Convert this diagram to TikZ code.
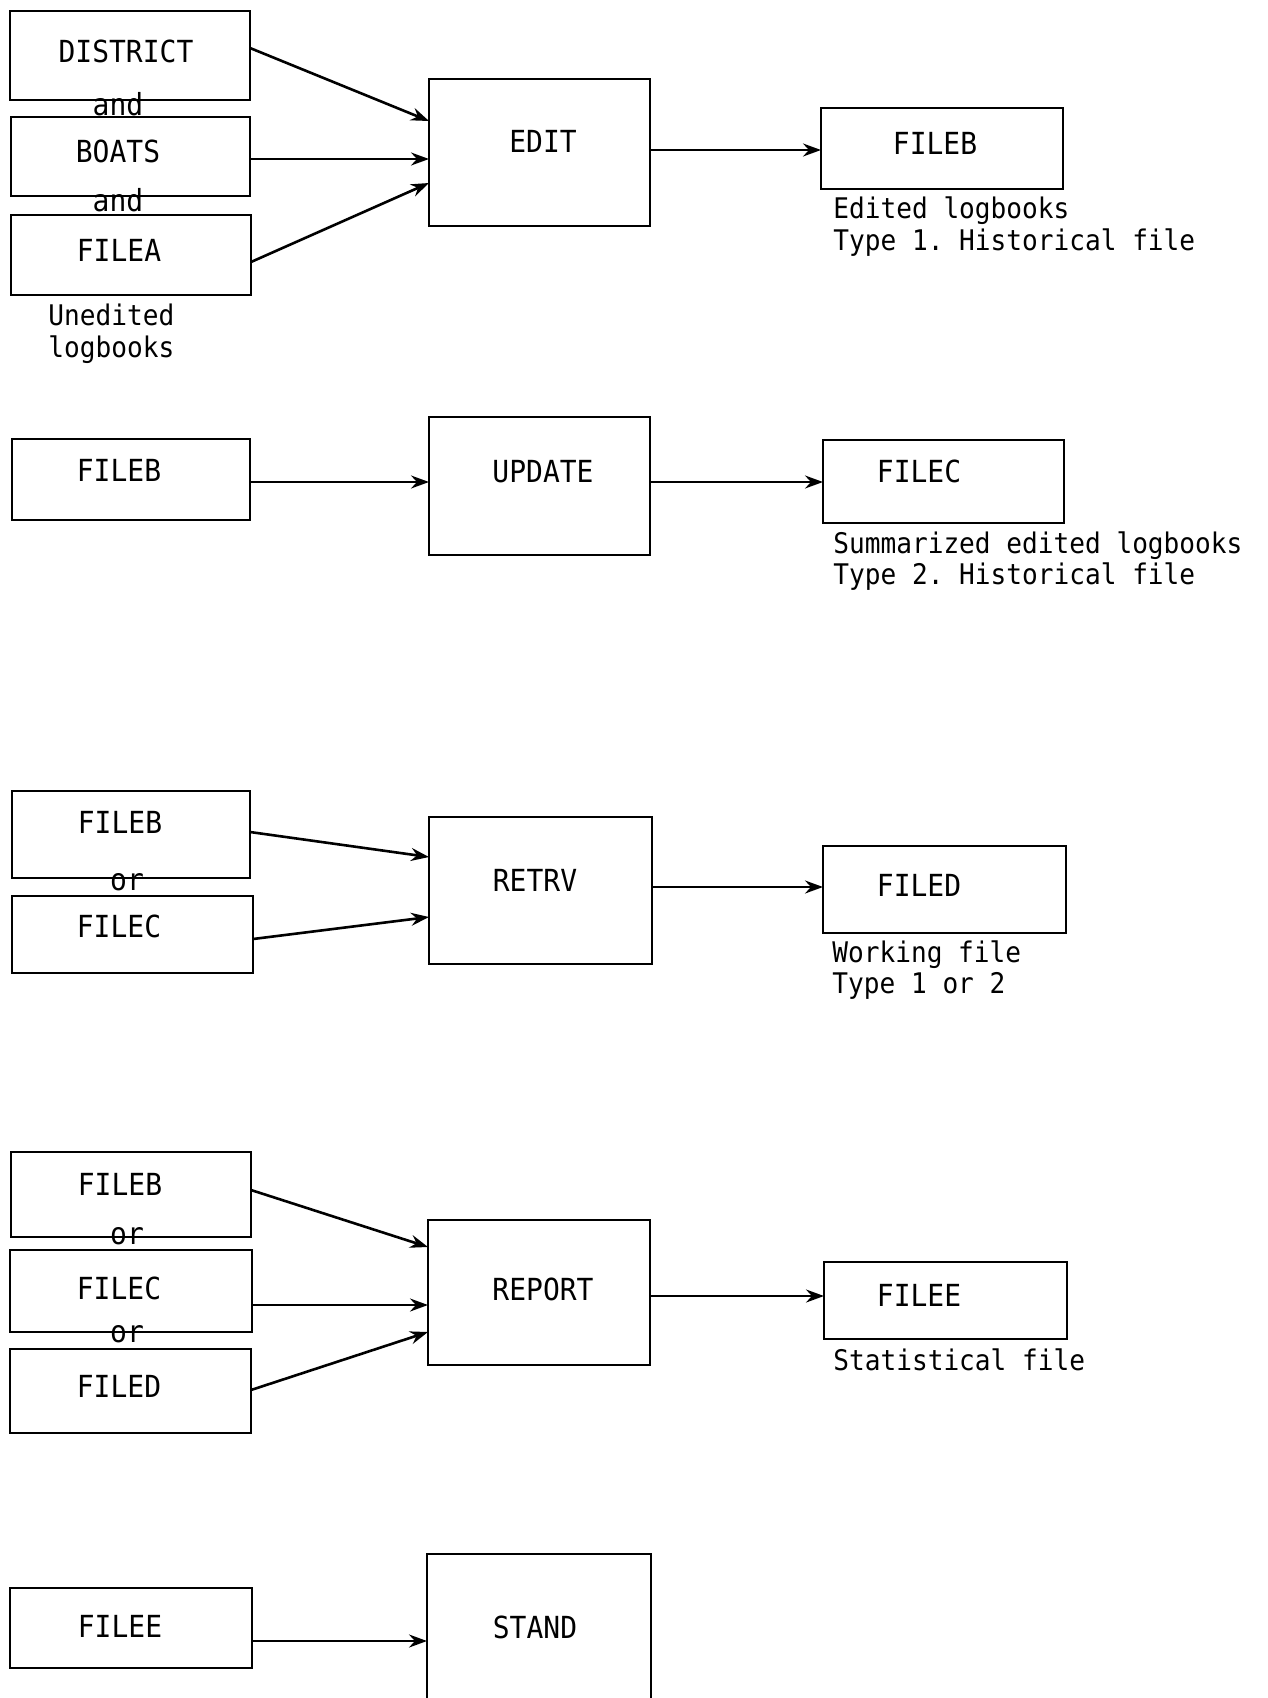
\documentclass[tikz,border=0pt]{standalone}
\usepackage{fontspec}
\setmonofont{DejaVu Sans Mono}[FakeStretch=0.92]
\usetikzlibrary{arrows.meta,fit}

\tikzset{
  box/.style={draw, line width=1.3pt, inner sep=0pt, outer sep=0pt},
  lbl/.style={font=\ttfamily\fontsize{15.2}{18}\selectfont, inner sep=0pt, anchor=base},
  note/.style={font=\ttfamily\fontsize{14.2}{17}\selectfont, inner sep=0pt, anchor=base west},
  link/.style={line width=1.3pt, -{Stealth[length=9pt,width=6.5pt,inset=3pt]}},
}

\begin{document}
\begin{tikzpicture}[x=0.5pt,y=-0.5pt]
\useasboundingbox (0,0) rectangle (1268,1698);
\clip (0,0) rectangle (1268,1698);

% ---- EDIT step ----
\node[box, fit={(10,11) (250,100)}] (district) {};
\node[lbl] (district-t) at (126,62) {DISTRICT};
\node[lbl] (and-a) at (118,115) {and};
\node[box, fit={(11,117) (250,196)}] (boats) {};
\node[lbl] (boats-t) at (118,162) {BOATS};
\node[lbl] (and-b) at (118,211) {and};
\node[box, fit={(11,215) (251,295)}] (filea) {};
\node[lbl] (filea-t) at (119,261) {FILEA};
\node[note] (filea-n1) at (48,325) {Unedited};
\node[note] (filea-n2) at (48,357) {logbooks};

\node[box, fit={(429,79) (650,226)}] (edit) {};
\node[lbl] (edit-t) at (543,152) {EDIT};

\node[box, fit={(821,108) (1063,189)}] (fileb-out) {};
\node[lbl] (fileb-out-t) at (935,154) {FILEB};
\node[note] (fileb-out-n1) at (833,218) {Edited logbooks};
\node[note] (fileb-out-n2) at (833,250) {Type 1. Historical file};

\draw[link] (district.east |- 0,48) -- (edit.west |- 0,121);
\draw[link] (boats.east |- 0,159) -- (edit.west |- 0,159);
\draw[link] (filea.east |- 0,262) -- (edit.west |- 0,183);
\draw[link] (edit.east |- 0,150) -- (fileb-out.west |- 0,150);

% ---- UPDATE step ----
\node[box, fit={(12,439) (250,520)}] (fileb-up) {};
\node[lbl] (fileb-up-t) at (119,481) {FILEB};
\node[box, fit={(429,417) (650,555)}] (update) {};
\node[lbl] (update-t) at (543,482) {UPDATE};
\node[box, fit={(823,440) (1064,523)}] (filec-out) {};
\node[lbl] (filec-out-t) at (919,482) {FILEC};
\node[note] (filec-out-n1) at (833,553) {Summarized edited logbooks};
\node[note] (filec-out-n2) at (833,584) {Type 2. Historical file};

\draw[link] (fileb-up.east |- 0,482) -- (update.west |- 0,482);
\draw[link] (update.east |- 0,482) -- (filec-out.west |- 0,482);

% ---- RETRV step ----
\node[box, fit={(12,791) (250,878)}] (fileb-rt) {};
\node[lbl] (fileb-rt-t) at (120,833) {FILEB};
\node[lbl] (or-a) at (127,890) {or};
\node[box, fit={(12,896) (253,973)}] (filec-rt) {};
\node[lbl] (filec-rt-t) at (119,937) {FILEC};
\node[box, fit={(429,817) (652,964)}] (retrv) {};
\node[lbl] (retrv-t) at (535,891) {RETRV};
\node[box, fit={(823,846) (1066,933)}] (filed-out) {};
\node[lbl] (filed-out-t) at (919,896) {FILED};
\node[note] (filed-out-n1) at (832,962) {Working file};
\node[note] (filed-out-n2) at (832,993) {Type 1 or 2};

\draw[link] (fileb-rt.east |- 0,832) -- (retrv.west |- 0,857);
\draw[link] (filec-rt.east |- 0,939) -- (retrv.west |- 0,917);
\draw[link] (retrv.east |- 0,887) -- (filed-out.west |- 0,887);

% ---- REPORT step ----
\node[box, fit={(11,1152) (251,1237)}] (fileb-rp) {};
\node[lbl] (fileb-rp-t) at (120,1195) {FILEB};
\node[lbl] (or-b) at (127,1244) {or};
\node[box, fit={(10,1250) (252,1332)}] (filec-rp) {};
\node[lbl] (filec-rp-t) at (119,1299) {FILEC};
\node[lbl] (or-c) at (127,1342) {or};
\node[box, fit={(10,1349) (251,1433)}] (filed-rp) {};
\node[lbl] (filed-rp-t) at (119,1397) {FILED};
\node[box, fit={(428,1220) (650,1365)}] (report) {};
\node[lbl] (report-t) at (543,1300) {REPORT};
\node[box, fit={(824,1262) (1067,1339)}] (filee-out) {};
\node[lbl] (filee-out-t) at (919,1306) {FILEE};
\node[note] (filee-out-n) at (833,1370) {Statistical file};

\draw[link] (fileb-rp.east |- 0,1190) -- (report.west |- 0,1247);
\draw[link] (filec-rp.east |- 0,1305) -- (report.west |- 0,1305);
\draw[link] (filed-rp.east |- 0,1390) -- (report.west |- 0,1332);
\draw[link] (report.east |- 0,1296) -- (filee-out.west |- 0,1296);

% ---- STAND step ----
\node[box, fit={(10,1588) (252,1668)}] (filee-st) {};
\node[lbl] (filee-st-t) at (120,1637) {FILEE};
\node[box, fit={(427,1554) (651,1740)}] (stand) {};
\node[lbl] (stand-t) at (535,1638) {STAND};

\draw[link] (filee-st.east |- 0,1641) -- (stand.west |- 0,1641);
\end{tikzpicture}
\end{document}
